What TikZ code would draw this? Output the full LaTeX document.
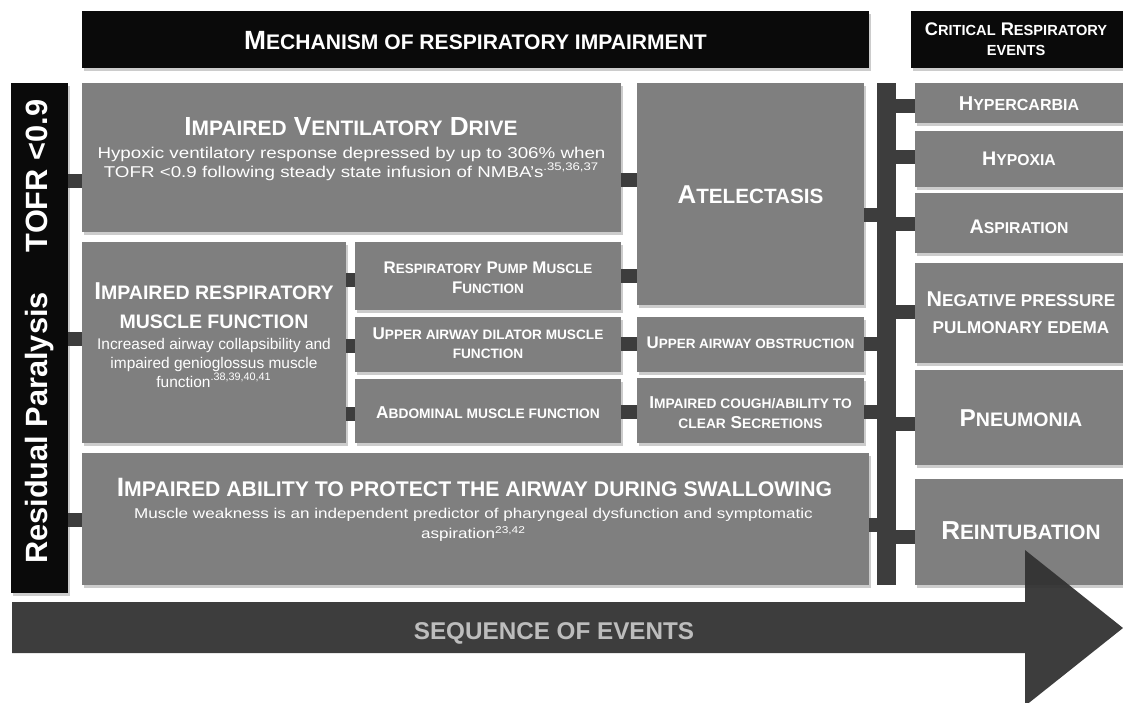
\documentclass[tikz,border=0pt]{standalone}
\usepackage{fontspec}
\setmainfont{Liberation Sans}
\newfontfamily\widefont{Liberation Sans}[FakeStretch=1.2]
\usetikzlibrary{shadows,fit}

\definecolor{panelgrey}{HTML}{7F7F7F}
\definecolor{headblack}{HTML}{0A0A0A}
\definecolor{linkgrey}{HTML}{3D3D3D}
\definecolor{arrowgrey}{HTML}{333333}
\definecolor{seqtext}{HTML}{BDBDBD}

% fake small caps: rest of the word a step smaller
\makeatletter
\newcommand{\smc}[1]{{\fontsize{\the\dimexpr0.8\dimexpr\f@size pt\relax\relax}{\f@baselineskip}\selectfont #1}}
\makeatother

\tikzset{
  boxshadow/.style={drop shadow={shadow xshift=1.2pt, shadow yshift=-1.8pt, opacity=0.4}},
  panel/.style={fill=panelgrey, inner sep=0pt, boxshadow},
  header/.style={fill=headblack, inner sep=0pt, boxshadow},
  ttl/.style 2 args={text=white, align=center, inner sep=0pt, anchor=base,
    font=\bfseries\fontsize{#1}{#2}\selectfont},
  sub/.style 2 args={text=white, align=center, inner sep=0pt, anchor=base,
    font=\fontsize{#1}{#2}\selectfont},
  widesub/.style 2 args={sub={#1}{#2}, font=\widefont\fontsize{#1}{#2}\selectfont},
  side/.style={text=white, rotate=90, anchor=base, inner sep=0pt,
    font=\bfseries\fontsize{17.5}{20}\selectfont},
  link/.style={draw=linkgrey, line width=0.28cm},
}

\begin{document}
\begin{tikzpicture}[x=0.02cm, y=-0.02cm]
    \useasboundingbox (0,0) rectangle (1123,703);

    % headers (multi-line texts sit on the baseline of their last line)
    \node (mech) [header, fit={(82,11) (869,68)}] {};
    \node (mech-t) [ttl={15}{18}] at (475.5,50)
        {M\smc{ECHANISM OF RESPIRATORY IMPAIRMENT}};
    \node (crit) [header, fit={(911,11) (1123,68)}] {};
    \node (crit-t) [ttl={10.4}{11.3}] at (1016,55)
        {C\smc{RITICAL} R\smc{ESPIRATORY}\\\smc{EVENTS}};

    \node (lbar) [header, fit={(11,83) (68,593)}] {};
    \node (lbar-a) [side] at (48,428) {Residual Paralysis};
    \node (lbar-b) [side] at (48,176) {TOFR <0.9};

    % mechanisms
    \node (vent) [panel, fit={(82,83) (621,232)}] {};
    \node (vent-t) [ttl={14.9}{17}] at (351,135)
        {I\smc{MPAIRED} V\smc{ENTILATORY} D\smc{RIVE}};
    \node (vent-s) [widesub={8.9}{10.8}] at (351.5,177)
        {Hypoxic ventilatory response depressed by up to 306\% when\\
         TOFR <0.9 following steady state infusion of NMBA’s\textsuperscript{.35,36,37}};

    \node (atel) [panel, fit={(637,83) (864,305)}] {};
    \node (atel-t) [ttl={14.7}{17}] at (750.5,203) {A\smc{TELECTASIS}};

    \node (muscle) [panel, fit={(82,242) (346,443)}] {};
    \node (muscle-t) [ttl={13.9}{16.4}] at (214,328)
        {I\smc{MPAIRED RESPIRATORY}\\\smc{MUSCLE FUNCTION}};
    \node (muscle-s) [sub={8.8}{10.8}] at (214,387)
        {Increased airway collapsibility and\\impaired genioglossus muscle\\
         function\textsuperscript{.38,39,40,41}};

    \node (pump) [panel, fit={(355,242) (621,310)}] {};
    \node (pump-t) [ttl={9.6}{11.3}] at (488,293)
        {R\smc{ESPIRATORY} P\smc{UMP} M\smc{USCLE}\\F\smc{UNCTION}};
    \node (dilator) [panel, fit={(355,317) (621,372)}] {};
    \node (dilator-t) [ttl={9.7}{10.8}] at (488,358)
        {U\smc{PPER AIRWAY DILATOR MUSCLE}\\\smc{FUNCTION}};
    \node (abdo) [panel, fit={(355,379) (621,443)}] {};
    \node (abdo-t) [ttl={9.8}{11}] at (488,418)
        {A\smc{BDOMINAL MUSCLE FUNCTION}};

    \node (obstr) [panel, fit={(637,317) (864,372)}] {};
    \node (obstr-t) [ttl={9.6}{11}] at (750.5,348)
        {U\smc{PPER AIRWAY OBSTRUCTION}};
    \node (cough) [panel, fit={(637,378) (864,443)}] {};
    \node (cough-t) [ttl={9.8}{11.3}] at (750.5,428)
        {I\smc{MPAIRED COUGH/ABILITY TO}\\\smc{CLEAR} S\smc{ECRETIONS}};

    \node (ability) [panel, fit={(82,453) (869,585)}] {};
    \node (ability-t) [ttl={15.1}{17}] at (474.5,496)
        {I\smc{MPAIRED ABILITY TO PROTECT THE AIRWAY DURING SWALLOWING}};
    \node (ability-s) [widesub={8.1}{11.3}] at (473.5,538)
        {Muscle weakness is an independent predictor of pharyngeal dysfunction and symptomatic\\
         aspiration\textsuperscript{23,42}};

    \node (bus) [fill=linkgrey, inner sep=0pt, fit={(877,83) (896,585)}] {};

    % critical events
    \node (hyper) [panel, fit={(915,83) (1123,123)}] {};
    \node (hyper-t) [ttl={11.4}{13}] at (1019,110) {H\smc{YPERCARBIA}};
    \node (hypox) [panel, fit={(915,131) (1123,187)}] {};
    \node (hypox-t) [ttl={11.2}{13}] at (1019,165) {H\smc{YPOXIA}};
    \node (aspir) [panel, fit={(915,193) (1123,253)}] {};
    \node (aspir-t) [ttl={11.2}{13}] at (1019,233) {A\smc{SPIRATION}};
    \node (negat) [panel, fit={(915,263) (1123,363)}] {};
    \node (negat-t) [ttl={12.2}{15.3}] at (1021,333)
        {N\smc{EGATIVE PRESSURE}\\\smc{PULMONARY EDEMA}};
    \node (pneum) [panel, fit={(915,370) (1123,465)}] {};
    \node (pneum-t) [ttl={13.9}{16}] at (1021,426) {P\smc{NEUMONIA}};
    \node (reint) [panel, fit={(915,479) (1123,585)}] {};
    \node (reint-t) [ttl={14.8}{17}] at (1021,539) {R\smc{EINTUBATION}};

    % links
    \foreach \a/\b/\y in {lbar/vent/181, lbar/muscle/339, lbar/ability/520,
        vent/atel/180, muscle/pump/280, muscle/dilator/346, muscle/abdo/414,
        pump/atel/276, dilator/obstr/344, abdo/cough/412,
        atel/bus/215, obstr/bus/344, cough/bus/412, ability/bus/525,
        bus/hyper/106, bus/hypox/157, bus/aspir/224, bus/negat/312,
        bus/pneum/424, bus/reint/537}
        \draw [link] (\a.east |- 0,\y) -- (\b.west |- 0,\y);

    % sequence of events
    \fill [arrowgrey, fill opacity=0.95] (12,602) -- (1025,602) -- (1025,550)
        -- (1123,628) -- (1025,706) -- (1025,653) -- (12,653) -- cycle;
    \node (seq) [text=seqtext, anchor=base, inner sep=0pt,
        font=\bfseries\fontsize{13.8}{16}\selectfont] at (554,639) {SEQUENCE OF EVENTS};
\end{tikzpicture}
\end{document}
